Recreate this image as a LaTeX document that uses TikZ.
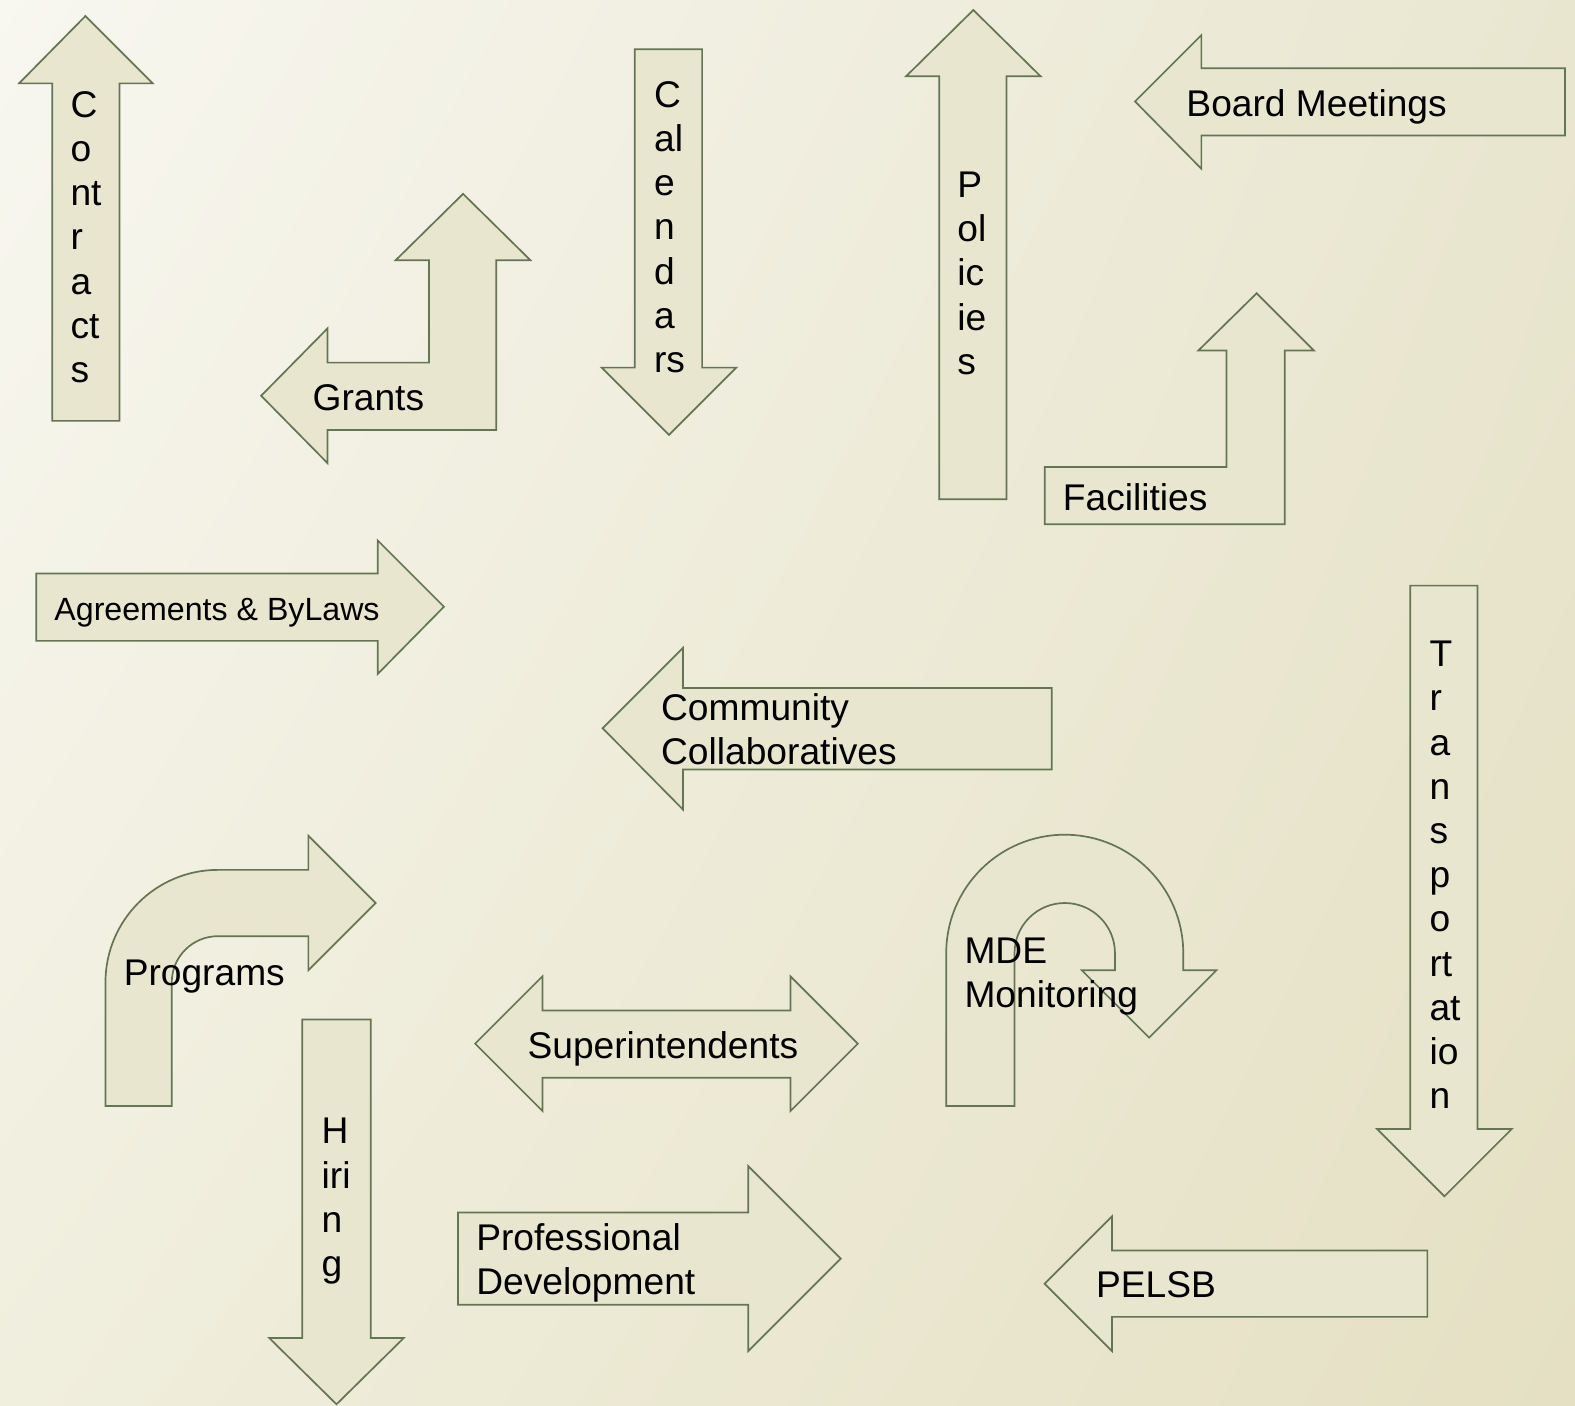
\documentclass[tikz,border=0pt]{standalone}
\usepackage{fontspec}
\setmainfont{Liberation Sans}
\usetikzlibrary{shadings}
\definecolor{bgul}{HTML}{F8F7F0}
\definecolor{bgur}{HTML}{E9E6D0}
\definecolor{bgll}{HTML}{F0EEDD}
\definecolor{bglr}{HTML}{E5E0C3}
\definecolor{arrowfill}{HTML}{E9E6CF}
\definecolor{arrowline}{HTML}{657553}

\begin{document}
\begin{tikzpicture}[x=1pt, y=-1pt,
		arrowbody/.style={draw=arrowline, fill=arrowfill, line width=1.7pt, line join=miter},
		txt/.style={anchor=west, inner sep=0pt, align=left, font=\fontsize{37}{44}\selectfont},
		smalltxt/.style={txt, font=\fontsize{32}{38}\selectfont}]
			\useasboundingbox (0,0) rectangle (1568,1399);
			\shade[upper left=bgul, upper right=bgur, lower left=bgll, lower right=bglr] (0,0) rectangle (1568,1399);
			\draw[arrowbody] (85,16) -- (152,83) -- (119,83) -- (119,419) -- (52,419) -- (52,83) -- (19,83) -- cycle;
			\draw[arrowbody] (461,193) -- (528,259) -- (494,259) -- (494,428) -- (326,428) -- (326,461) -- (260,394) -- (326,327) -- (326,361) -- (427,361) -- (427,259) -- (394,259) -- cycle;
			\draw[arrowbody] (632,49) -- (699,49) -- (699,366) -- (733,366) -- (666,433) -- (599,366) -- (632,366) -- cycle;
			\draw[arrowbody] (969,10) -- (1036,76) -- (1002,76) -- (1002,497) -- (935,497) -- (935,76) -- (902,76) -- cycle;
			\draw[arrowbody] (1130,101) -- (1196,35) -- (1196,68) -- (1558,68) -- (1558,135) -- (1196,135) -- (1196,168) -- cycle;
			\draw[arrowbody] (1251,292) -- (1308,349) -- (1279,349) -- (1279,522) -- (1040,522) -- (1040,465) -- (1221,465) -- (1221,349) -- (1193,349) -- cycle;
			\draw[arrowbody] (36,571) -- (376,571) -- (376,538) -- (442,604) -- (376,671) -- (376,638) -- (36,638) -- cycle;
			\draw[arrowbody] (600,725) -- (680,645) -- (680,685) -- (1047,685) -- (1047,766) -- (680,766) -- (680,806) -- cycle;
			\draw[arrowbody] (105,1101) -- (105,978) arc[start angle=180, end angle=270, radius=112] -- (307,866) -- (307,832) -- (374,899) -- (307,966) -- (307,932) -- (217,932) arc[start angle=270, end angle=180, radius=46] -- (171,1101) -- cycle;
			\draw[arrowbody] (942,1101) -- (942,949) arc[start angle=180, end angle=360, radius=118] -- (1178,966) -- (1211,966) -- (1144,1033) -- (1077,966) -- (1110,966) -- (1110,949) arc[start angle=0, end angle=-180, radius=50] -- (1010,1101) -- cycle;
			\draw[arrowbody] (473,1039) -- (540,972) -- (540,1006) -- (787,1006) -- (787,972) -- (854,1039) -- (787,1106) -- (787,1073) -- (540,1073) -- (540,1106) -- cycle;
			\draw[arrowbody] (1404,583) -- (1471,583) -- (1471,1124) -- (1505,1124) -- (1438,1191) -- (1371,1124) -- (1404,1124) -- cycle;
			\draw[arrowbody] (301,1015) -- (369,1015) -- (369,1332) -- (402,1332) -- (335,1398) -- (268,1332) -- (301,1332) -- cycle;
			\draw[arrowbody] (456,1207) -- (745,1207) -- (745,1161) -- (837,1253) -- (745,1345) -- (745,1299) -- (456,1299) -- cycle;
			\draw[arrowbody] (1040,1278) -- (1107,1211) -- (1107,1245) -- (1421,1245) -- (1421,1311) -- (1107,1311) -- (1107,1345) -- cycle;
			\node[txt] (contracts) at (70,236) {C\\o\\nt\\r\\a\\ct\\s};
			\node[txt] (grants) at (311,396) {Grants};
			\node[txt] (calendars) at (651,226) {C\\al\\e\\n\\d\\a\\rs};
			\node[txt] (policies) at (953,272) {P\\ol\\ic\\ie\\s};
			\node[txt] (board) at (1181,106) {Board Meetings};
			\node[txt] (facilities) at (1058,495) {Facilities};
			\node[smalltxt] (agreements) at (54,610) {Agreements \& ByLaws};
			\node[txt] (community) at (658,726) {Community\\Collaboratives};
			\node[txt] (programs) at (123,972) {Programs};
			\node[txt] (mde) at (960,972) {MDE\\Monitoring};
			\node[txt] (supers) at (525,1044) {Superintendents};
			\node[txt] (transport) at (1423,871) {T\\r\\a\\n\\s\\p\\o\\rt\\at\\io\\n};
			\node[txt] (hiring) at (320,1196) {H\\iri\\n\\g};
			\node[txt] (profdev) at (474,1257) {Professional\\Development};
			\node[txt] (pelsb) at (1091,1279) {PELSB};
			\end{tikzpicture}
\end{document}
